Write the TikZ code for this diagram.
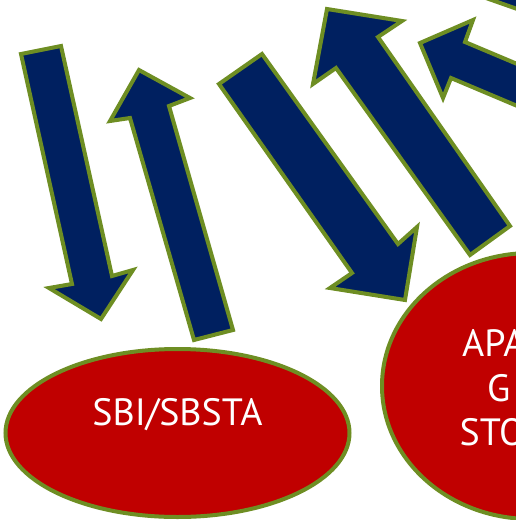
\documentclass[tikz,border=0pt]{standalone}
\usepackage{fontspec}
\setmainfont{PT Sans}
\usetikzlibrary{shapes.geometric}
\definecolor{navy}{RGB}{0,32,96}
\definecolor{rred}{RGB}{192,0,0}
\definecolor{olivegreen}{RGB}{110,142,35}
\begin{document}
\begin{tikzpicture}[x=1pt,y=-1pt,
  blockarrow/.style={fill=navy,draw=olivegreen,line width=4pt,line join=miter},
  bubble/.style={ellipse,fill=rred,draw=olivegreen,line width=4pt,inner sep=0pt},
  bubtext/.style={text=white,font=\fontsize{38}{44}\selectfont,inner sep=0pt}]
\clip (0,0) rectangle (516,520);
% ellipses
\node[bubble,minimum width=344pt,minimum height=168pt] (sbi) at (177.5,433) {};
\node[bubble,minimum width=298pt,minimum height=266pt] (apag) at (531,386) {};
\node[bubtext,anchor=base] (sbitext) at (177.5,425) {SBI/SBSTA};
\node[bubtext,anchor=base west] (apa) at (462,356.7) {APA};
\node[bubtext,anchor=base west] (g) at (487,401.7) {G};
\node[bubtext,anchor=base west] (sto) at (459.5,445) {STO};
% block arrows
\draw[blockarrow] (21,54) -- (61,46) -- (112,276) -- (133,270) -- (101,319) -- (49,288) -- (72,284) -- cycle;
\draw[blockarrow] (139,70) -- (190,98) -- (169,106) -- (233,330) -- (194,340) -- (130,118) -- (110,121) -- cycle;
\draw[blockarrow] (219,84) -- (262,54) -- (398,244) -- (417,227) -- (405,300) -- (330,288) -- (352,273) -- cycle;
\draw[blockarrow] (327,9) -- (402,21) -- (378,37) -- (510,226) -- (470,255) -- (336,68) -- (313,84) -- cycle;
\draw[blockarrow] (420,43) -- (473,20) -- (465,42) -- (560,82) -- (560,124) -- (451,78) -- (443,98) -- cycle;
\draw[blockarrow] (486,-2) -- (540,17) -- (540,-20) -- (486,-20) -- cycle;
\end{tikzpicture}
\end{document}
